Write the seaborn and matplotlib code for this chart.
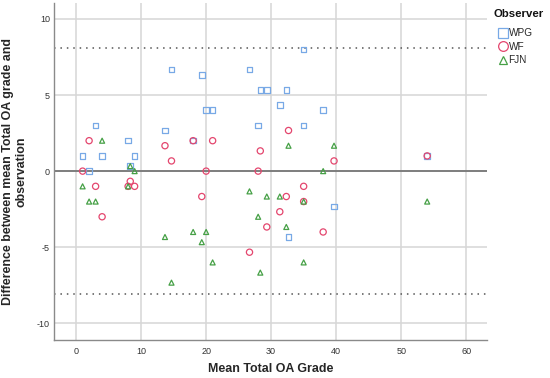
import matplotlib
matplotlib.use("Agg")
import matplotlib.pyplot as plt
import seaborn as sns
import pandas as pd
from matplotlib.lines import Line2D

# ---- data ----
mean_grade = [1, 2, 3, 4, 8, 8.33, 9, 13.67, 14.67, 18, 19.33, 20, 21,
              26.67, 28, 28.33, 29.33, 31.33, 32.33, 32.67, 35, 35, 38, 39.67, 54]
diff_wpg = [1, 0, 3, 1, 2, 0.33, 1, 2.67, 6.67, 2, 6.33, 4, 4,
            6.67, 3, 5.33, 5.33, 4.33, 5.33, -4.33, 8, 3, 4, -2.33, 1]
diff_wf = [0, 2, -1, -3, -1, -0.67, -1, 1.67, 0.67, 2, -1.67, 0, 2,
           -5.33, 0, 1.33, -3.67, -2.67, -1.67, 2.67, -2, -1, -4, 0.67, 1]
diff_fjn = [-1, -2, -2, 2, -1, 0.33, 0, -4.33, -7.33, -4, -4.67, -4, -6,
            -1.33, -3, -6.67, -1.67, -1.67, -3.67, 1.67, -6, -2, 0, 1.67, -2]
observers = ["WPG", "WF", "FJN"]
loa_upper = 8.1
loa_lower = -8.1
x_ticks = [0, 10, 20, 30, 40, 50, 60]
y_ticks = [-10, -5, 0, 5, 10]

df = pd.DataFrame({
    "mean": mean_grade * 3,
    "diff": diff_wpg + diff_wf + diff_fjn,
    "Observer": ["WPG"] * len(mean_grade) + ["WF"] * len(mean_grade) + ["FJN"] * len(mean_grade),
})

sns.set_theme(style="white")
plt.rcParams["font.family"] = ["Liberation Sans", "DejaVu Sans"]
plt.rcParams["axes.unicode_minus"] = False

colors = {"WPG": "#78a9e6", "WF": "#e4466e", "FJN": "#46a046"}
markers = {"WPG": "s", "WF": "o", "FJN": "^"}
sizes = {"WPG": 16, "WF": 20, "FJN": 13}
leg_sizes = {"WPG": 6.5, "WF": 7, "FJN": 6}

fig = plt.figure(figsize=(5.5, 3.78), dpi=100)
ax = fig.add_axes([54 / 550, 1 - 340 / 378, (487 - 54) / 550, (340 - 3) / 378])

ax.set_xlim(-3.4, 63.2)
ax.set_ylim(-11.1, 11.05)
ax.set_xticks(x_ticks)
ax.set_yticks(y_ticks)
ax.grid(True, color="#d6d6d6", linewidth=1.1, zorder=0)
ax.set_axisbelow(True)

ax.axhline(0, color="#6e6e6e", linewidth=1.2, zorder=1)
ax.axhline(loa_upper, color="#555555", linewidth=1.1, linestyle=(0, (1, 3.2)), zorder=1)
ax.axhline(loa_lower, color="#555555", linewidth=1.1, linestyle=(0, (1, 3.2)), zorder=1)

for obs in observers:
    sub = df[df["Observer"] == obs]
    sns.scatterplot(data=sub, x="mean", y="diff", ax=ax, marker=markers[obs],
                    s=sizes[obs], color=colors[obs], facecolor="none",
                    edgecolor=colors[obs], linewidth=0.9, zorder=3,
                    legend=False)

for side in ["top", "right"]:
    ax.spines[side].set_visible(False)
for side in ["left", "bottom"]:
    ax.spines[side].set_color("#8a8a8a")
    ax.spines[side].set_linewidth(1.0)

ax.tick_params(axis="both", length=0, labelsize=6.5, labelcolor="#333333")
ax.tick_params(axis="x", pad=5)
ax.tick_params(axis="y", pad=3)

ax.set_xlabel("Mean Total OA Grade", fontsize=8.9, fontweight="bold", labelpad=5)
ax.set_ylabel("Difference between mean Total OA grade and\nobservation",
              fontsize=8.9, fontweight="bold", linespacing=1.1)
ax.yaxis.set_label_coords(-0.062, 0.5)

handles = []
for obs in observers:
    handles.append(Line2D([], [], linestyle="none", marker=markers[obs],
                          markersize=leg_sizes[obs],
                          markerfacecolor="none", markeredgecolor=colors[obs],
                          markeredgewidth=0.9))
fig.text(494 / 550, 1 - 14 / 378, "Observer", fontsize=8.2, fontweight="bold",
         ha="left", va="center", color="#111111")
leg = fig.legend(handles, observers, loc="upper left",
                 bbox_to_anchor=(499 / 550, 1 - 28 / 378), frameon=False,
                 fontsize=7.2, handlelength=0.7, handletextpad=0.25,
                 labelspacing=0.35, borderpad=0, borderaxespad=0)

fig.savefig("out.png", dpi=100)
